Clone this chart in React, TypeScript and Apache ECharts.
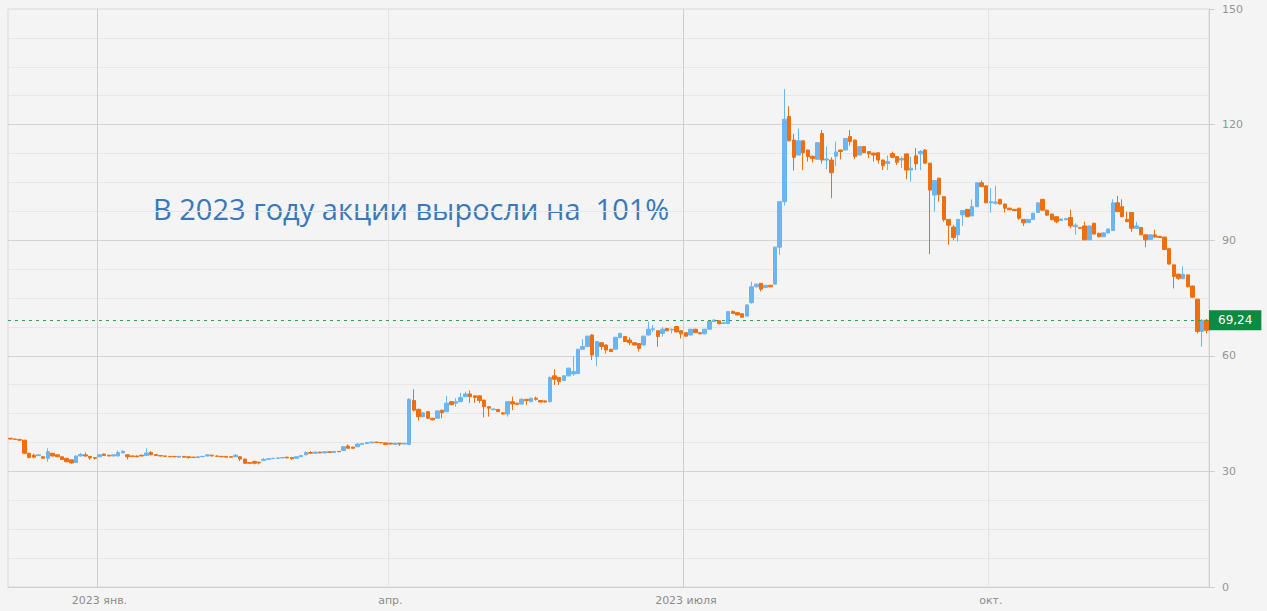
import React, { useEffect, useRef } from "react";
import * as echarts from "echarts";

// [open, close, low, high] per trading day
const dec2022: number[][] = [
  [38.6, 38.4, 38.3, 38.7], [38.4, 38.3, 38.2, 38.5], [38.3, 38.1, 38.0, 38.4], [38.1, 34.7, 34.5, 38.2],
  [34.7, 33.6, 33.4, 34.9], [34.2, 33.7, 33.4, 34.6], [34.1, 34.3, 34.0, 34.4], [33.8, 33.4, 33.3, 33.9],
  [33.4, 35.1, 32.5, 36.0], [34.7, 34.0, 33.9, 34.8], [34.3, 33.8, 33.7, 34.4], [33.8, 33.1, 33.0, 33.9],
  [33.4, 32.5, 32.4, 33.5], [33.0, 32.2, 32.0, 33.1], [32.3, 34.0, 32.2, 34.1], [34.0, 34.4, 33.9, 34.8],
  [34.3, 34.0, 33.8, 34.9], [33.9, 33.5, 33.0, 34.0], [33.6, 33.4, 33.1, 33.7],
];

const q1_2023: number[][] = [
  [33.8, 34.3, 33.7, 34.4], [34.5, 34.1, 34.0, 34.6], [34.2, 34.0, 33.9, 34.3], [34.0, 34.3, 33.9, 34.4],
  [34.0, 34.9, 33.9, 35.4], [34.8, 35.2, 34.7, 35.5], [34.3, 33.8, 33.1, 34.4], [34.0, 33.9, 33.8, 34.1],
  [34.0, 33.8, 33.7, 34.1], [34.2, 34.0, 33.9, 34.3], [34.1, 34.8, 34.0, 36.0], [34.9, 34.3, 34.2, 35.3],
  [34.4, 34.1, 34.0, 34.5], [34.1, 34.0, 33.9, 34.2], [34.0, 33.9, 33.8, 34.1], [33.9, 33.8, 33.7, 34.0],
  [33.9, 33.8, 33.7, 34.0], [33.7, 33.9, 33.6, 34.0], [33.9, 33.7, 33.6, 34.0], [33.8, 33.6, 33.3, 33.9],
  [33.7, 33.6, 33.5, 33.8], [33.6, 33.8, 33.5, 33.9], [33.8, 33.9, 33.7, 34.0], [34.0, 34.3, 33.9, 34.4],
  [34.2, 34.0, 33.9, 34.3], [34.0, 33.9, 33.8, 34.1], [33.9, 33.8, 33.7, 34.0], [33.9, 33.7, 33.6, 34.0],
  [33.8, 33.7, 33.6, 33.9], [33.8, 34.2, 33.7, 34.5], [33.8, 33.2, 32.7, 33.9], [33.2, 32.1, 32.0, 33.3],
  [32.3, 32.1, 32.0, 32.4], [32.6, 32.1, 31.8, 32.8], [32.4, 32.2, 31.8, 32.5], [32.8, 33.1, 32.7, 33.5],
  [33.1, 33.3, 33.0, 33.4], [33.3, 33.4, 33.2, 33.5], [33.4, 33.5, 33.3, 33.6], [33.5, 33.6, 33.4, 33.7],
  [33.7, 33.5, 33.4, 33.8], [33.6, 33.3, 33.0, 33.7], [33.4, 33.8, 33.3, 33.9], [33.8, 34.1, 33.7, 34.2],
  [34.3, 34.9, 34.2, 35.2], [34.9, 34.7, 34.6, 35.3], [34.7, 35.0, 34.6, 35.1], [35.0, 34.8, 34.7, 35.1],
  [34.8, 35.1, 34.7, 35.2], [35.1, 34.9, 34.8, 35.2], [34.9, 35.2, 34.8, 35.3], [35.2, 35.1, 35.0, 35.3],
  [35.4, 36.4, 35.3, 36.5], [36.6, 36.0, 35.9, 37.0], [36.3, 36.0, 35.9, 36.4], [36.4, 37.1, 36.3, 37.2],
  [37.0, 37.2, 36.9, 37.3], [37.2, 37.5, 37.1, 37.6], [37.4, 37.6, 37.3, 37.7], [37.6, 37.5, 37.4, 37.7],
  [37.5, 37.4, 37.3, 37.6], [37.4, 37.0, 36.9, 37.5],
];

const q2_2023: number[][] = [
  [37.3, 37.1, 37.0, 37.4], [37.0, 37.3, 36.9, 37.4], [37.3, 37.1, 36.6, 37.4], [37.1, 37.3, 37.0, 37.4],
  [37.0, 48.7, 36.8, 49.0], [48.4, 45.9, 45.5, 51.3], [46.1, 44.2, 43.2, 46.3], [44.2, 45.2, 44.0, 45.4],
  [45.5, 43.8, 43.6, 45.7], [43.8, 43.4, 43.2, 43.9], [43.8, 45.7, 43.7, 45.8], [45.9, 45.2, 43.8, 46.0],
  [45.5, 47.7, 45.4, 49.6], [48.1, 47.3, 47.2, 48.2], [47.7, 48.1, 46.8, 49.0], [48.1, 49.2, 48.0, 50.4],
  [49.4, 50.1, 49.3, 50.7], [50.1, 49.4, 47.8, 51.0], [49.6, 49.2, 47.8, 49.7], [49.6, 48.4, 47.7, 49.7],
  [48.5, 46.8, 44.0, 48.6], [46.8, 46.4, 44.2, 46.9], [46.0, 46.2, 45.9, 46.3], [46.1, 45.5, 45.4, 46.2],
  [45.2, 44.9, 44.8, 45.3], [44.9, 48.1, 44.2, 48.2], [48.1, 47.5, 45.9, 49.4], [47.7, 47.4, 47.3, 47.8],
  [47.5, 48.7, 47.4, 49.0], [48.7, 48.4, 47.3, 48.8], [48.1, 49.0, 48.0, 49.1], [49.0, 48.7, 48.4, 49.4],
  [48.4, 48.0, 47.9, 48.5], [48.3, 48.0, 47.9, 48.4], [48.1, 54.4, 47.9, 54.6], [54.8, 53.9, 52.4, 56.5],
  [54.4, 53.3, 52.4, 54.5], [53.6, 54.8, 53.5, 54.9], [54.8, 56.8, 54.7, 56.9], [55.3, 55.9, 54.8, 59.8],
  [55.4, 61.7, 55.3, 61.8], [61.7, 62.4, 61.6, 64.3], [62.4, 65.1, 62.3, 65.2], [65.4, 60.2, 58.9, 65.6],
  [59.8, 63.7, 57.4, 63.8], [63.4, 62.4, 61.5, 63.5], [62.8, 61.5, 60.6, 62.9], [61.7, 61.1, 61.0, 61.8],
  [61.7, 64.8, 61.6, 64.9], [64.7, 65.8, 64.6, 66.0], [65.0, 63.7, 63.6, 65.1], [64.1, 63.4, 62.8, 64.8],
  [63.4, 62.8, 62.7, 63.5], [63.2, 61.9, 61.1, 63.3], [62.8, 65.1, 62.7, 65.2], [65.4, 66.9, 65.3, 68.9],
  [66.8, 67.0, 66.2, 68.0], [66.5, 65.0, 62.4, 66.6], [65.8, 66.9, 65.0, 67.4], [67.1, 66.5, 66.4, 67.2],
  [66.7, 66.9, 65.8, 67.1], [67.6, 66.2, 66.1, 67.7], [66.5, 65.7, 64.5, 66.6],
];

const q3_2023: number[][] = [
  [66.0, 65.1, 65.0, 66.1], [65.4, 66.9, 65.3, 67.0], [66.9, 66.0, 65.9, 67.0], [66.0, 65.7, 65.6, 66.1],
  [65.7, 66.9, 65.6, 67.0], [66.9, 68.9, 66.8, 69.0], [68.9, 69.3, 68.8, 69.4], [69.1, 68.3, 68.2, 69.2],
  [68.4, 68.6, 68.3, 68.7], [68.4, 71.5, 68.3, 71.6], [71.5, 71.0, 70.9, 71.8], [71.2, 70.6, 70.5, 71.3],
  [70.9, 70.0, 69.9, 71.0], [70.3, 73.2, 70.2, 73.3], [73.8, 77.9, 73.5, 79.2], [77.9, 78.6, 77.8, 78.7],
  [78.8, 77.3, 76.7, 78.9], [77.7, 78.3, 77.6, 78.4], [78.3, 77.9, 77.8, 78.4], [78.6, 88.2, 78.5, 88.3],
  [88.2, 100.0, 86.2, 100.1], [100.0, 121.4, 99.0, 129.2], [122.1, 115.8, 115.6, 124.8], [116.0, 111.5, 108.1, 117.6],
  [112.1, 115.8, 112.0, 119.0], [115.8, 112.7, 108.2, 115.9], [113.4, 111.7, 110.4, 113.5], [111.8, 111.2, 110.2, 111.9],
  [111.0, 115.3, 110.9, 115.4], [117.7, 110.8, 109.9, 118.6], [110.8, 111.1, 108.4, 114.3], [110.8, 107.5, 100.9, 111.5],
  [111.8, 112.9, 109.3, 115.6], [113.4, 113.0, 111.0, 113.5], [113.4, 116.4, 113.3, 116.5], [116.9, 115.6, 114.5, 118.6],
  [116.0, 111.7, 111.0, 116.1], [112.1, 114.3, 112.0, 114.4], [114.3, 112.7, 112.6, 114.4], [113.0, 112.4, 111.3, 113.1],
  [112.6, 112.1, 110.4, 112.7], [112.7, 110.8, 109.9, 112.8], [110.8, 109.3, 108.2, 110.9], [109.9, 110.4, 108.2, 112.0],
  [112.5, 111.5, 111.4, 113.0], [111.7, 110.2, 109.5, 111.8], [110.8, 111.2, 108.7, 111.7], [112.4, 108.2, 105.8, 112.5],
  [108.2, 108.7, 105.2, 111.7], [111.9, 109.8, 108.2, 113.9], [112.4, 113.0, 108.2, 113.4], [113.4, 110.0, 109.9, 113.6],
  [110.0, 103.0, 86.4, 110.1], [101.7, 105.5, 97.4, 105.6], [106.1, 101.9, 100.0, 106.2], [101.3, 95.3, 94.8, 101.4],
  [95.4, 93.9, 88.8, 95.5], [93.4, 90.7, 90.0, 94.0], [91.4, 95.4, 89.6, 95.5], [96.6, 97.7, 93.7, 97.8],
  [98.0, 96.1, 96.0, 98.1], [96.3, 98.7, 96.2, 100.6], [98.7, 104.9, 98.6, 105.0], [104.9, 103.9, 103.8, 105.5],
  [104.1, 99.7, 99.6, 104.2],
];

const q4_2023: number[][] = [
  [99.7, 100.0, 97.2, 103.5], [99.6, 99.9, 99.2, 104.1], [100.6, 99.4, 99.3, 100.7], [99.4, 98.3, 97.2, 99.5],
  [98.3, 97.9, 97.8, 98.4], [98.0, 97.7, 97.6, 98.1], [98.3, 95.7, 95.3, 98.4], [95.4, 94.5, 93.7, 95.5],
  [94.6, 95.4, 94.5, 95.5], [95.4, 97.0, 95.3, 97.1], [97.2, 99.7, 97.1, 99.8], [100.6, 97.8, 97.7, 100.7],
  [97.8, 96.5, 96.4, 97.9], [96.8, 95.3, 95.2, 96.9], [96.1, 94.8, 94.4, 96.2], [95.1, 95.5, 95.0, 95.6],
  [95.3, 95.6, 95.2, 95.7], [95.9, 93.7, 93.1, 97.9], [93.5, 93.9, 91.4, 94.4], [93.3, 93.1, 93.0, 93.4],
  [93.7, 90.1, 90.0, 94.8], [90.1, 93.7, 90.0, 93.8], [94.4, 91.6, 91.5, 94.5], [91.8, 90.9, 90.8, 91.9],
  [90.9, 91.9, 90.8, 92.0], [91.9, 92.9, 91.8, 93.0], [92.5, 99.7, 92.4, 100.6], [99.7, 97.4, 97.3, 101.5],
  [98.7, 96.1, 96.0, 100.6], [95.4, 94.8, 94.7, 97.4], [97.2, 93.1, 92.2, 97.3], [93.1, 93.7, 93.0, 94.8],
  [93.3, 91.4, 91.3, 93.4], [91.4, 90.1, 88.2, 91.5], [90.2, 91.4, 90.1, 91.5], [91.4, 90.8, 90.7, 92.7],
  [91.0, 90.7, 90.6, 91.1], [90.8, 87.6, 87.5, 90.9], [87.8, 83.8, 83.7, 87.9], [83.6, 80.6, 77.5, 83.7],
  [81.2, 80.1, 79.7, 81.3], [80.0, 81.1, 79.9, 83.2], [81.0, 77.9, 77.8, 81.1], [78.1, 75.2, 75.1, 78.2],
  [74.7, 66.3, 65.8, 74.8], [66.3, 69.2, 62.4, 69.5], [69.24, 66.6, 65.8, 69.5],
];

const candles = [...dec2022, ...q1_2023, ...q2_2023, ...q3_2023, ...q4_2023];
const days = candles.map((_, i) => String(i));

// x tick labels: category index -> label
const monthTicks: Record<number, string> = {
  19: "2023 янв.",
  81: "апр.",
  144: "2023 июля",
  209: "окт.",
};

const lastPrice = 69.24;
const lastPriceLabel = "69,24";
const headline = "В 2023 году акции выросли на  101%";
const yTicks = { min: 0, max: 150, interval: 30 };

const UP = "#6cb5f3";
const DOWN = "#ef6f0f";

export default function App() {
  const ref = useRef<HTMLDivElement>(null);

  useEffect(() => {
    document.body.style.margin = "0";
    document.body.style.background = "#f4f4f4";
    const chart = echarts.init(ref.current!, null, { renderer: "svg" });
    const isTick = (index: number) => monthTicks[index] !== undefined;
    chart.setOption({
      animation: false,
      backgroundColor: "#f4f4f4",
      grid: {
        left: 8,
        right: 58,
        top: 9,
        bottom: 24,
        show: true,
        borderColor: "#dadada",
        borderWidth: 1,
      },
      xAxis: {
        type: "category",
        data: days,
        boundaryGap: true,
        axisLine: { show: true, lineStyle: { color: "#d0d0d0" } },
        axisTick: { show: false },
        axisLabel: {
          interval: (index: number) => isTick(index),
          formatter: (_v: string, index: number) => monthTicks[index] ?? "",
          color: "#8c8c8c",
          fontFamily: "DejaVu Sans",
          fontSize: 11,
          margin: 8,
        },
        splitLine: {
          show: true,
          interval: (index: number) => isTick(index),
          lineStyle: { color: ["#cfcfcf", "#e3e3e3"], width: 1 },
        },
      },
      yAxis: {
        type: "value",
        position: "right",
        min: yTicks.min,
        max: yTicks.max,
        interval: yTicks.interval,
        axisLine: { show: true, lineStyle: { color: "#cfcfcf" } },
        axisTick: { show: true, length: 6, lineStyle: { color: "#cfcfcf" } },
        axisLabel: {
          color: "#959595",
          fontFamily: "DejaVu Sans",
          fontSize: 11,
          margin: 13,
        },
        splitLine: {
          show: true,
          lineStyle: {
            color: ["#d3d3d3", "#d3d3d3", "#d3d3d3", "#d3d3d3", "#d3d3d3", "#e6e6e6"],
          },
        },
        minorTick: { show: false, splitNumber: 4 },
        minorSplitLine: { show: true, lineStyle: { color: "#e7e7e7" } },
      },
      series: [
        {
          type: "candlestick",
          data: candles,
          barWidth: "85%",
          itemStyle: {
            color: UP,
            color0: DOWN,
            borderColor: UP,
            borderColor0: DOWN,
            borderWidth: 1,
          },
          markLine: {
            silent: true,
            symbol: ["none", "none"],
            data: [{ yAxis: lastPrice }],
            lineStyle: { color: "#2e9e5b", type: [3, 4], width: 1 },
            label: {
              show: true,
              position: "end",
              distance: 0,
              formatter: lastPriceLabel,
              color: "#ffffff",
              backgroundColor: "#0b8a42",
              padding: [4, 9, 4, 9],
              fontFamily: "DejaVu Sans",
              fontSize: 12,
            },
          },
        },
      ],
      graphic: [
        {
          type: "text",
          x: 153,
          y: 208,
          style: {
            text: headline,
            fill: "#3b78b8",
            font: '29px "Open Sans"',
            verticalAlign: "middle",
          },
        },
      ],
    });
    return () => chart.dispose();
  }, []);

  return <div ref={ref} style={{ width: 1267, height: 611 }} />;
}
